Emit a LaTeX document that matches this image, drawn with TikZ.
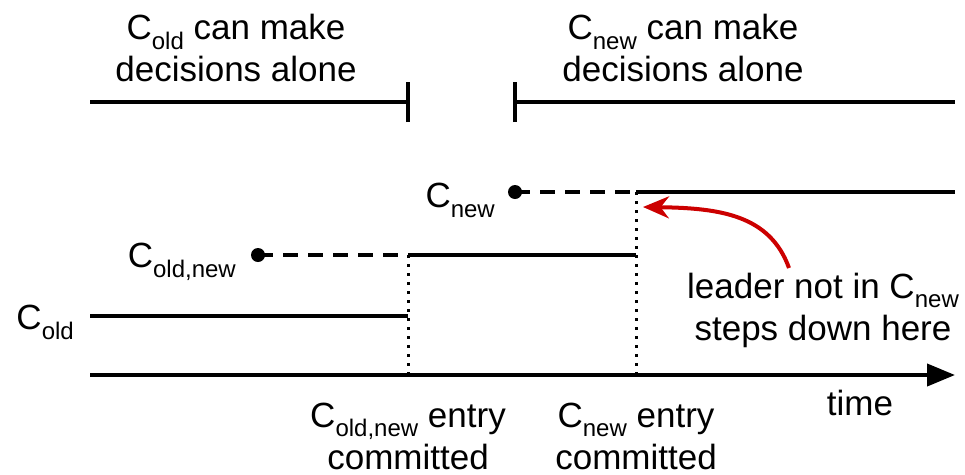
\documentclass[tikz,border=0pt]{standalone}
\usepackage{fontspec}
\setmainfont{Liberation Sans}
\usetikzlibrary{arrows.meta}
\newcommand\subtxt[1]{\raisebox{-0.28em}{\fontsize{24}{24}\selectfont #1}}
\tikzset{
  lbl/.style={inner sep=0pt, font=\fontsize{35}{42}\selectfont, align=center},
  solidline/.style={line width=4pt},
  dashline/.style={line width=4pt, dash pattern=on 15pt off 10pt},
  dotline/.style={line width=3pt, dash pattern=on 3pt off 6pt},
  dotpt/.style={circle, fill=black, inner sep=0pt, minimum size=14pt},
  redarrow/.style={line width=4pt, draw={rgb,255:red,204;green,0;blue,0}, -{Stealth[length=26pt,width=22pt]}}
}
\begin{document}
\begin{tikzpicture}[x=1pt,y=-1pt]
\useasboundingbox (0,0) rectangle (965,474);
% top spans
\coordinate (tl1) at (90,102);
\coordinate (tl2) at (408,102);
\coordinate (tr1) at (515,102);
\coordinate (tr2) at (955,102);
\draw[solidline] (tl1) -- (tl2);
\draw[solidline] ([yshift=-20pt]tl2) -- ([yshift=20pt]tl2);
\draw[solidline] (tr1) -- (tr2);
\draw[solidline] ([yshift=-20pt]tr1) -- ([yshift=20pt]tr1);
\node[lbl] (toptxt1) at (236,48) {C\subtxt{old} can make\\decisions alone};
\node[lbl] (toptxt2) at (683,48) {C\subtxt{new} can make\\decisions alone};
% Cnew line
\node[dotpt] (dnew) at (515,192) {};
\coordinate (cn1) at (636,192);
\coordinate (cn2) at (955,192);
\draw[dashline] (dnew.center) -- (cn1);
\draw[solidline] (cn1) -- (cn2);
\node[lbl, anchor=east] (lnew) at (495,200) {C\subtxt{new}};
% Cold,new line
\node[dotpt] (don) at (258,255) {};
\coordinate (co1) at (408,255);
\coordinate (co2) at (636,255);
\draw[dashline] (don.center) -- (co1);
\draw[solidline] (co1) -- (co2);
\node[lbl, anchor=east] (lon) at (236,262) {C\subtxt{old,new}};
% Cold line
\coordinate (cl1) at (90,316);
\coordinate (cl2) at (408,316);
\draw[solidline] (cl1) -- (cl2);
\node[lbl, anchor=east] (lold) at (74,322) {C\subtxt{old}};
% time axis
\coordinate (ax1) at (90,375);
\coordinate (ax2) at (955,375);
\coordinate (v1) at (408,375);
\coordinate (v2) at (636,375);
\draw[line width=4pt, -{Triangle[length=28pt,width=22pt]}] (ax1) -- (ax2);
\draw[dotline] (co1) -- (v1);
\draw[dotline] (cn1) -- (v2);
\node[lbl] (ltime) at (860,403) {time};
\node[lbl] (lc1) at (408,436) {C\subtxt{old,new} entry\\committed};
\node[lbl] (lc2) at (636,436) {C\subtxt{new} entry\\committed};
% leader note
\node[lbl] (note) at (823,310) {leader not in C\subtxt{new}\\steps down here};
\coordinate (as) at (789,268);
\coordinate (ae) at (643,207);
\draw[redarrow] (as) .. controls (770,215) and (720,208) .. (ae);
\end{tikzpicture}
\end{document}
